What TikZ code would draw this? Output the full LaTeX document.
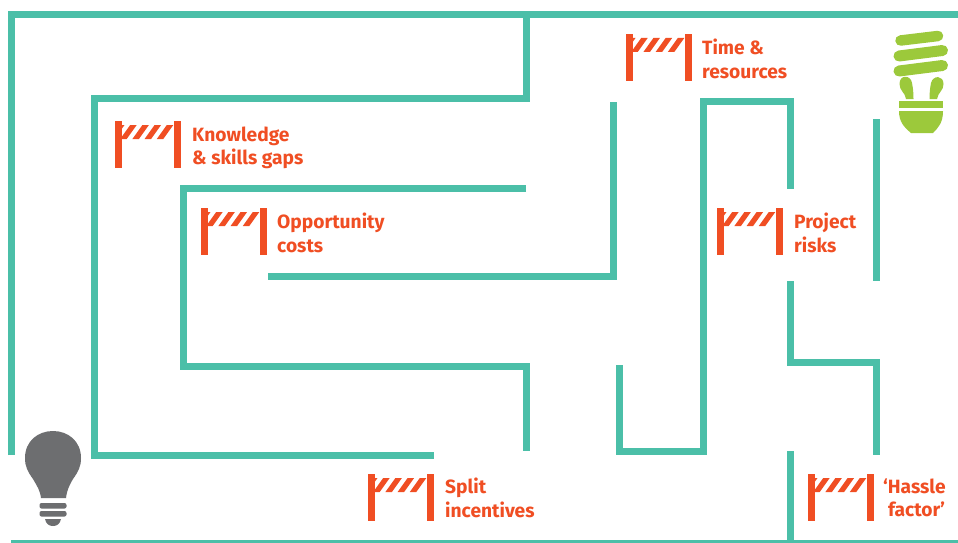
\documentclass[tikz,border=0pt]{standalone}
\usepackage{fontspec}
\setmainfont{Fira Sans}
\definecolor{wall}{HTML}{4BBFA8}
\definecolor{barred}{HTML}{F04E23}
\definecolor{gbulb}{HTML}{9CC93B}
\definecolor{gray bulb}{HTML}{6D6E70}
\tikzset{
  wallline/.style={draw=wall,line width=7pt,line join=miter,line cap=butt},
  lbl/.style={text=barred,font=\fontsize{19.2}{23.5}\selectfont\bfseries,align=left,anchor=west,inner sep=0pt},
  barrier/.pic={
    \fill[barred] (0,0) rectangle (7,47);
    \fill[barred] (59,0) rectangle (66,47);
    \begin{scope}
      \clip (7,4) rectangle (59,18);
      \foreach \i in {0,1,2,3,4}{
        \fill[barred] (\i*12.2-7,18) -- (\i*12.2-0.5,18) -- (\i*12.2+9.5,4) -- (\i*12.2+3,4) -- cycle;
      }
    \end{scope}
  }
}
\begin{document}
\begin{tikzpicture}[x=1pt,y=-1pt]
\useasboundingbox (0,0) rectangle (958,543);
\fill[white] (0,0) rectangle (958,543);
% maze
\draw[wallline] (11,455) -- (11,15) -- (958,15);
\draw[wallline,line width=4pt] (11,541.5) -- (958,541.5);
\draw[wallline] (526,15) -- (526,98) -- (94,98) -- (94,455) -- (434,455);
\draw[wallline] (526,188) -- (183,188) -- (183,366) -- (526,366) -- (526,451);
\draw[wallline] (268,276) -- (613,276) -- (613,102);
\draw[wallline] (619,365) -- (619,451) -- (703,451) -- (703,101) -- (790,101) -- (790,189);
\draw[wallline] (790,281) -- (790,362) -- (876,362) -- (876,455);
\draw[wallline] (876,119) -- (876,281);
\draw[wallline] (790,451) -- (790,541);
% barriers
\pic at (115,121) {barrier};
\pic at (201,208) {barrier};
\pic at (626,34) {barrier};
\pic at (717,208) {barrier};
\pic at (368,474) {barrier};
\pic at (808,474) {barrier};
% labels
\node[lbl] (l1) at (702,59) {Time \&\\resources};
\node[lbl] (l2) at (192,148) {Knowledge\\\& skills gaps};
\node[lbl] (l3) at (277,233) {Opportunity\\costs};
\node[lbl] (l4) at (794,233) {Project\\risks};
\node[lbl] (l5) at (445,498) {Split\\incentives};
\node[lbl] (l6) at (883,498) {‘Hassle\\\hspace*{5pt}factor’};
% grey bulb
\fill[gray bulb] (41,498) .. controls (40,490) and (37,486) .. (33,479)
  .. controls (28,472) and (25,467) .. (25,458)
  .. controls (25,441) and (38,431) .. (53,431)
  .. controls (68,431) and (81,441) .. (81,458)
  .. controls (81,467) and (78,472) .. (73,479)
  .. controls (69,486) and (67,490) .. (66,498) -- cycle;
\fill[gray bulb,rounded corners=2pt] (39.500,503) rectangle (66.500,508.500);
\fill[gray bulb,rounded corners=2pt] (39.500,511) rectangle (66.500,516.500);
\fill[gray bulb] (45,519) -- (61,519) .. controls (60,524) and (57,526) .. (53,526) .. controls (49,526) and (46,524) .. (45,519) -- cycle;
% green bulb
\draw[gbulb,line width=10.500pt,line cap=round] (900.500,40.500) -- (938,36);
\draw[gbulb,line width=11pt,line cap=round] (899,56) -- (942.500,50.500);
\draw[gbulb,line width=11pt,line cap=round] (899,71) -- (942.500,65.500);
\fill[gbulb] (906,99) .. controls (905,92) and (899.500,91) .. (899.500,84) .. controls (899.500,74) and (911,75) .. (912,83) .. controls (913,88) and (913.500,93) .. (913.500,99) -- cycle;
\fill[gbulb] (929.500,99) .. controls (929.500,93) and (930,88) .. (931,83) .. controls (933,75) and (943.500,75) .. (943.500,84) .. controls (943.500,91) and (938,92) .. (937,99) -- cycle;
\fill[gbulb] (899,101) rectangle (943,108);
\fill[gbulb] (899,111) -- (943,111) .. controls (943,122) and (939,127) .. (933,133) -- (911,133) .. controls (904,127) and (899,122) .. (899,111) -- cycle;
\end{tikzpicture}
\end{document}
